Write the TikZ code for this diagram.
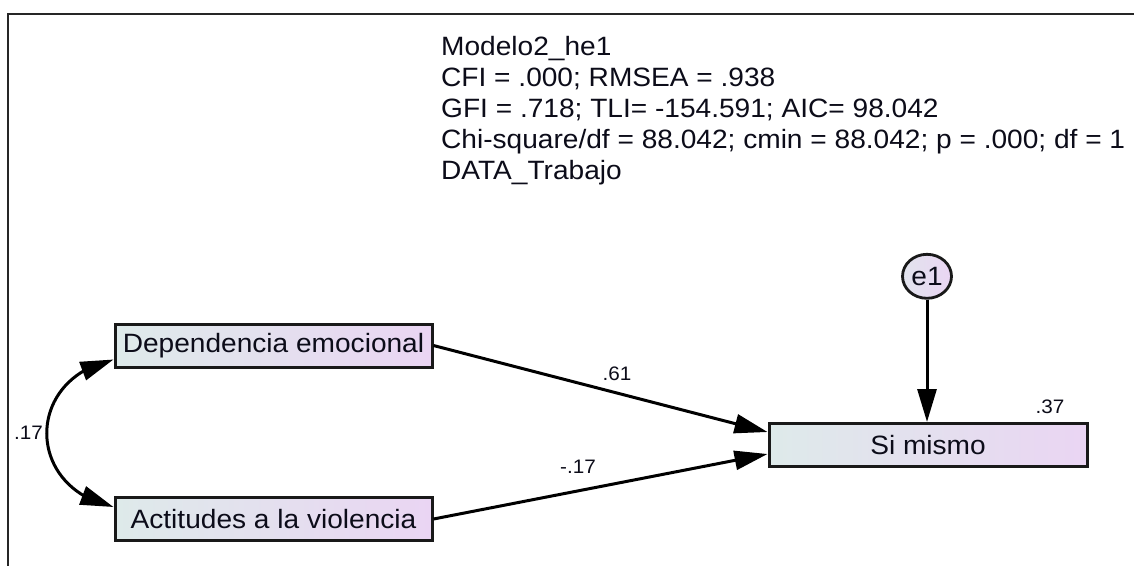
\documentclass[tikz,border=0pt]{standalone}
\usepackage{fontspec}
\setmainfont{Liberation Sans}[FakeStretch=1.06]
\usetikzlibrary{arrows.meta,shapes.geometric,calc,bending}
\definecolor{gleft}{RGB}{222,234,234}
\definecolor{gright}{RGB}{234,213,243}
\definecolor{ink}{RGB}{12,12,25}
\begin{document}
\begin{tikzpicture}[x=1pt,y=-1pt,
  obs/.style={draw=black!90, line width=3pt, left color=gleft, right color=gright,
    minimum width=317pt, minimum height=43pt, inner sep=0pt, text=ink,
    font=\fontsize{26.5}{30}\selectfont},
  errnode/.style={ellipse, draw=black!90, line width=2.8pt, left color=gleft!70!gright, right color=gright,
    minimum width=49pt, minimum height=44pt, inner sep=0pt, text=ink,
    font=\fontsize{26.5}{30}\selectfont},
  info/.style={anchor=base west, inner sep=0pt, text=ink, font=\fontsize{26.5}{30}\selectfont},
  coef/.style={anchor=base, inner sep=0pt, text=ink, font=\fontsize{19.5}{22}\selectfont},
  path/.style={line width=3pt, draw=black, -{Triangle[length=33pt,width=19pt]}},
  cov/.style={line width=3pt, draw=black, {Triangle[length=33pt,width=19pt,flex]}-{Triangle[length=33pt,width=19pt,flex]}}
]
\useasboundingbox (0,0) rectangle (1134,566);
\fill[white] (0,0) rectangle (1134,566);
% frame
\draw[line width=2pt, black!85] (1134,14.3) -- (8.3,14.3) -- (8.3,566);

% info text
\node[info] (l1) at (441,55.5) {Modelo2\_he1};
\node[info] (l2) at (441,86.5) {CFI = .000; RMSEA = .938};
\node[info] (l3) at (441,117.5) {GFI = .718; TLI= -154.591; AIC= 98.042};
\node[info] (l4) at (441,148.5) {Chi-square/df = 88.042; cmin = 88.042; p = .000; df = 1};
\node[info] (l5) at (441,179.5) {DATA\_Trabajo};

% nodes
\node[obs] (dep) at (273.5,345.5) {Dependencia emocional};
\node[obs] (act) at (273.5,519) {Actitudes a la violencia};
\node[obs, minimum width=318pt] (si) at (928,445) {Si mismo};
\node[errnode] (e1) at (927,276.3) {e1};

% connectors
\draw[path] (dep.east) -- ($(si.west)+(0,-13)$);
\draw[path] (act.east) -- ($(si.west)+(0,9)$);
\draw[path] (e1.south) -- (e1.south |- si.north);
\draw[cov] ($(dep.south west)+(0,-9)$) .. controls ($(dep.south west)+(-89,10)$) and ($(act.north west)+(-89,-8)$) .. ($(act.north west)+(0,11)$);

% coefficients
\node[coef] (c61) at (617,380) {.61};
\node[coef] (c17b) at (578,473) {-.17};
\node[coef] (c37) at (1050,413) {.37};
\node[coef] (c17a) at (28.5,439) {.17};
\end{tikzpicture}
\end{document}
